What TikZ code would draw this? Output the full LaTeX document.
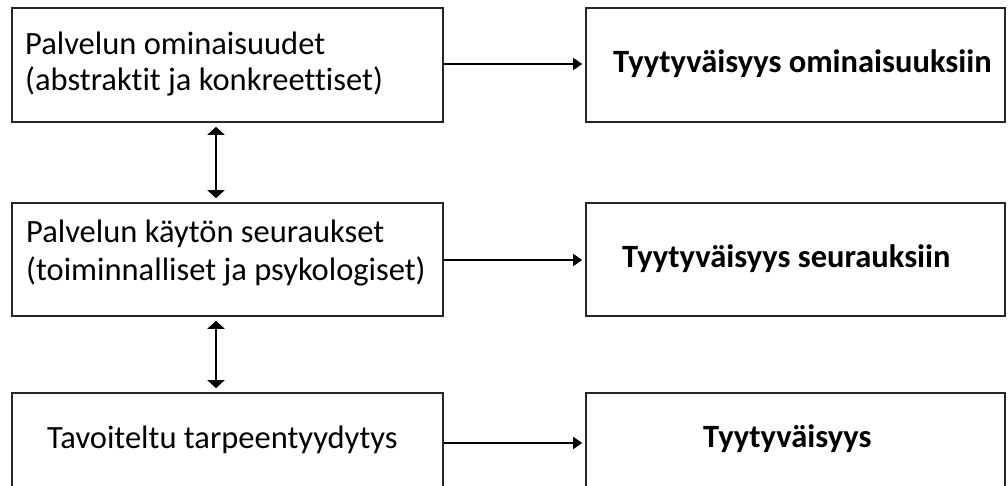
\documentclass[tikz,border=0pt]{standalone}
\usepackage{fontspec}
\setmainfont[Ligatures=NoCommon]{Carlito}
\usetikzlibrary{arrows.meta}
\begin{document}
\begin{tikzpicture}[x=1pt,y=-1pt,
  box/.style={draw=black!85, line width=1.6pt, rectangle, inner sep=0pt},
  lbox/.style={box, minimum width=431pt},
  rbox/.style={box, minimum width=419pt},
  ltext/.style={anchor=base west, inner sep=0pt, font=\fontsize{32.5}{38}\selectfont},
  rtext/.style={anchor=base west, inner sep=0pt, font=\fontsize{32.5}{38}\selectfont\bfseries},
  harrow/.style={line width=1.6pt, -{Triangle[length=9pt,width=12pt]}, shorten >=3pt},
  varrow/.style={line width=1.6pt, {Triangle[length=8pt,width=17pt]}-{Triangle[length=8pt,width=17pt]}, shorten >=4pt, shorten <=4pt}
]
\useasboundingbox (0,0) rectangle (1008,486);
\clip (0,0) rectangle (1008,486);
% left boxes
\node[lbox, minimum height=114pt] (L1) at (227.5,65) {};
\node[lbox, minimum height=113pt] (L2) at (227.5,259.5) {};
\node[lbox, minimum height=100pt] (L3) at (227.5,443) {};
% right boxes
\node[rbox, minimum height=114pt] (R1) at (795.5,65) {};
\node[rbox, minimum height=113pt] (R2) at (795.5,259.5) {};
\node[rbox, minimum height=100pt] (R3) at (795.5,443) {};
% texts
\node[ltext] (t1a) at (25,55) {Palvelun ominaisuudet};
\node[ltext] (t1b) at (25,91) {(abstraktit ja konkreettiset)};
\node[ltext] (t2a) at (26,242) {Palvelun käytön seuraukset};
\node[ltext] (t2b) at (26,280) {(toiminnalliset ja psykologiset)};
\node[ltext] (t3) at (47,448) {Tavoiteltu tarpeentyydytys};
\node[rtext] (r1) at (613,73) {Tyytyväisyys ominaisuuksiin};
\node[rtext] (r2) at (622,267) {Tyytyväisyys seurauksiin};
\node[rtext] (r3) at (703,447) {Tyytyväisyys};
% arrows
\draw[harrow] (L1.east |- 0,64) -- (R1.west |- 0,64);
\draw[harrow] (L2.east |- 0,260) -- (R2.west |- 0,260);
\draw[harrow] (L3.east |- 0,443) -- (R3.west |- 0,443);
\draw[varrow] (L1.south -| 216,0) -- (L2.north -| 216,0);
\draw[varrow] (L2.south -| 216,0) -- (L3.north -| 216,0);
\end{tikzpicture}
\end{document}
